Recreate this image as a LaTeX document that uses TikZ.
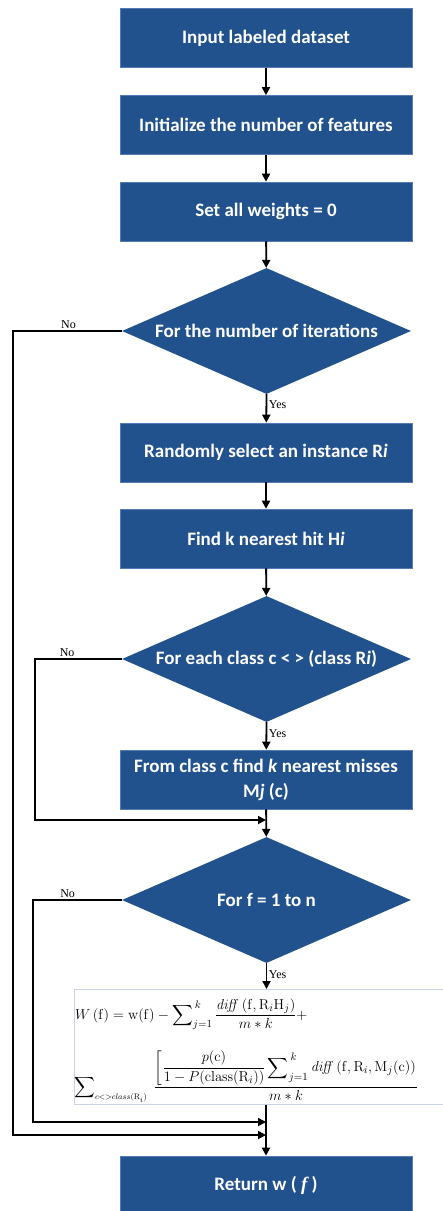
\documentclass[tikz,border=0pt]{standalone}
\usepackage{amsmath}
\usepackage[no-math]{fontspec}
\setmainfont{Carlito}
\newfontfamily\serif{Liberation Serif}
\usetikzlibrary{shapes.geometric,arrows.meta}
\definecolor{boxblue}{RGB}{34,82,141}
\definecolor{boxedge}{RGB}{84,124,178}
\definecolor{fbedge}{RGB}{200,212,228}

\begin{document}
\begin{tikzpicture}[x=1pt,y=-1pt,
  stepbox/.style={rectangle, fill=boxblue, draw=boxedge, line width=0.6pt,
    minimum width=292pt, minimum height=59pt, inner sep=0pt, text=white,
    align=center, font=\fontsize{19}{25}\selectfont\bfseries},
  decision/.style={diamond, fill=boxblue, minimum width=289pt, minimum height=126pt,
    aspect=2.3, inner sep=0pt, text=white, align=center,
    font=\fontsize{19}{25}\selectfont\bfseries},
  flow/.style={line width=1.8pt, -{Triangle[length=8pt,width=8pt]}},
  lbl/.style={font=\fontsize{12}{13}\selectfont\serif, inner sep=1.5pt, text=black},
  fml/.style={inner sep=0pt, font=\fontsize{15.5}{18}\selectfont}]
\useasboundingbox (0,0) rectangle (443,1211);

% process steps and decisions
\node[stepbox] (b1) at (266,38) {Input labeled dataset};
\node[stepbox] (b2) at (266,125) {Initialize the number of features};
\node[stepbox] (b3) at (266,211.5) {Set all weights = 0};
\node[decision] (d1) at (266.5,331) {For the number of iterations};
\node[stepbox] (b4) at (266,452.5) {Randomly select an instance R\textit{i}};
\node[stepbox] (b5) at (266,538.5) {Find k nearest hit H\textit{i}};
\node[decision] (d2) at (266.5,659) {For each class c < > (class R\textit{i})};
\node[stepbox] (b6) at (266,779.5) {From class c find \textit{k} nearest misses\\M\textit{j} (c)};
\node[decision] (d3) at (266.5,900) {For f = 1 to n};
\node[stepbox] (ret) at (266,1185.5) {Return w ( {\serif\bfseries\itshape f} )};

% weight update formula
\node[draw=fbedge, line width=0.8pt, anchor=north west, minimum width=400pt,
  minimum height=115pt, inner sep=0pt] (fb) at (74,989) {};
\node[fml, anchor=base west] (f1) at (75,1019)
  {$\displaystyle W\,(\mathrm{f}) = \mathrm{w(f)} - \sum\nolimits_{j=1}^{\,k}
   \frac{\mathit{diff}\,(\mathrm{f}, \mathrm{R}_i\mathrm{H}_j)}{m * k} +$};
\node[fml, anchor=base west] (f2) at (74,1091)
  {$\displaystyle\sum\nolimits_{\scriptscriptstyle c<>class(\mathrm{R}_i)}\;
   \frac{\displaystyle\left[\frac{p(\mathrm{c})}{1-P(\mathrm{class}(\mathrm{R}_i))}
   \sum\nolimits_{j=1}^{\,k}\mathit{diff}\,(\mathrm{f}, \mathrm{R}_i, \mathrm{M}_j(\mathrm{c}))\right.}{m * k}$};

% junction points of the loop-back lines
\coordinate (n1) at (13,331);
\coordinate (n2) at (35,659);
\coordinate (n3) at (33,900);
\coordinate (j1) at (266,1135);
\coordinate (j2) at (266,820);
\coordinate (j3) at (266,1122);

% main flow
\draw[flow] (b1) -- (b2);
\draw[flow] (b2) -- (b3);
\draw[flow] (b3) -- (d1);
\draw[flow] (d1.south) -- node[lbl, right, pos=0.35] {Yes} (b4);
\draw[flow] (b4) -- (b5);
\draw[flow] (b5) -- (d2);
\draw[flow] (d2.south) -- node[lbl, right, pos=0.4] {Yes} (b6);
\draw[flow] (b6) -- (d3);
\draw[flow] (d3.south) -- node[lbl, right, pos=0.45] {Yes} (d3.south |- fb.north);
\draw[flow] (ret.north |- fb.south) -- (ret.north);

% "No" branches
\draw[flow] (d1.west) -- node[lbl, above, pos=0.49] {No} (n1) |- (j1);
\draw[flow] (d2.west) -- node[lbl, above, pos=0.63] {No} (n2) |- (j2);
\draw[flow] (d3.west) -- node[lbl, above, pos=0.61] {No} (n3) |- (j3);
\end{tikzpicture}
\end{document}
